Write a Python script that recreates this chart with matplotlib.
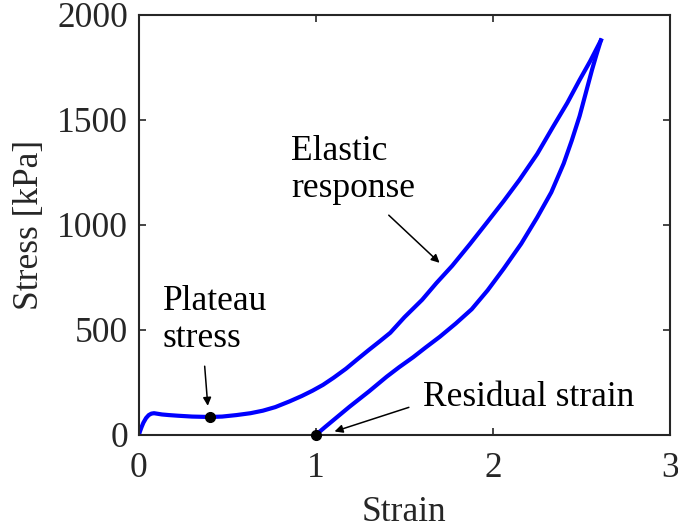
import matplotlib.pyplot as plt

plt.rcParams['font.family'] = ['Liberation Serif', 'DejaVu Serif']

# loading branch (strain, stress in kPa)
load_strain = [0.0, 0.005, 0.015, 0.025, 0.04, 0.055, 0.07, 0.085, 0.1, 0.13,
               0.17, 0.22, 0.3, 0.4, 0.47, 0.55, 0.63, 0.7, 0.77, 0.85, 0.92,
               0.98, 1.04, 1.1, 1.17, 1.23, 1.3, 1.36, 1.42, 1.5, 1.6, 1.68,
               1.77, 1.87, 1.97, 2.06, 2.15, 2.25, 2.34, 2.42, 2.49, 2.55, 2.61]
load_stress = [0, 15, 38, 58, 80, 94, 101, 103, 101, 97,
               94, 91, 87, 85, 87, 94, 103, 115, 132, 159, 185,
               210, 238, 272, 315, 357, 405, 445, 486, 560, 643, 722,
               805, 908, 1015, 1112, 1214, 1337, 1467, 1580, 1690, 1780, 1878]

# unloading branch
unload_strain = [2.61, 2.585, 2.56, 2.525, 2.49, 2.445, 2.40, 2.33, 2.25,
                 2.16, 2.06, 1.97, 1.88, 1.79, 1.70, 1.62, 1.55, 1.47,
                 1.40, 1.30, 1.19, 1.10, 1.05, 1.0]
unload_stress = [1878, 1810, 1738, 1628, 1518, 1400, 1292, 1155, 1035,
                 910, 790, 688, 598, 530, 467, 416, 370, 322,
                 277, 207, 134, 71, 36, 0]

# residual part back to zero strain
tail_strain = [1.0, 0.0]
tail_stress = [0, 0]

fig = plt.figure(figsize=(6.78, 5.29), dpi=100)
ax = fig.add_axes([0.205, 0.178, 0.783, 0.794])

blue = '#0000ff'
ax.plot(load_strain, load_stress, color=blue, lw=3.0, solid_joinstyle='round')
ax.plot(unload_strain, unload_stress, color=blue, lw=3.0, solid_joinstyle='round')
ax.plot(tail_strain, tail_stress, color=blue, lw=1.8)

ax.plot([0.4], [85], 'o', color='black', ms=7, zorder=5)
ax.plot([1.0], [0], 'o', color='black', ms=7, zorder=5, clip_on=False)

ax.set_xlim(0, 3)
ax.set_ylim(0, 2000)
ax.set_xticks([0, 1, 2, 3])
ax.set_yticks([0, 500, 1000, 1500, 2000])

fs = 25.5
ax.set_xlabel('Strain', fontsize=fs, color='#262626', labelpad=8)
ax.set_ylabel('Stress [kPa]', fontsize=fs, color='#262626', labelpad=8)
ax.tick_params(direction='in', length=5, width=1.2, top=True, right=True,
               labelsize=fs, colors='#262626')
ax.tick_params(axis='x', pad=12)
ax.tick_params(axis='y', pad=8)
for s in ax.spines.values():
    s.set_linewidth(1.5)
    s.set_color('#262626')

arrow = dict(arrowstyle='-|>', color='black', lw=1.1, mutation_scale=12)
ax.text(0.86, 1262, 'Elastic\nresponse', fontsize=fs, ha='left', va='center',
        linespacing=1.15)
ax.annotate('', xy=(1.71, 810), xytext=(1.40, 1055), arrowprops=arrow)
ax.text(0.135, 548, 'Plateau\nstress', fontsize=fs, ha='left', va='center',
        linespacing=1.15)
ax.annotate('', xy=(0.39, 125), xytext=(0.37, 340), arrowprops=arrow)
ax.text(1.605, 176, 'Residual strain', fontsize=fs, ha='left', va='center')
ax.annotate('', xy=(1.09, 12), xytext=(1.54, 135), arrowprops=arrow)

fig.savefig('out.png', dpi=100)
